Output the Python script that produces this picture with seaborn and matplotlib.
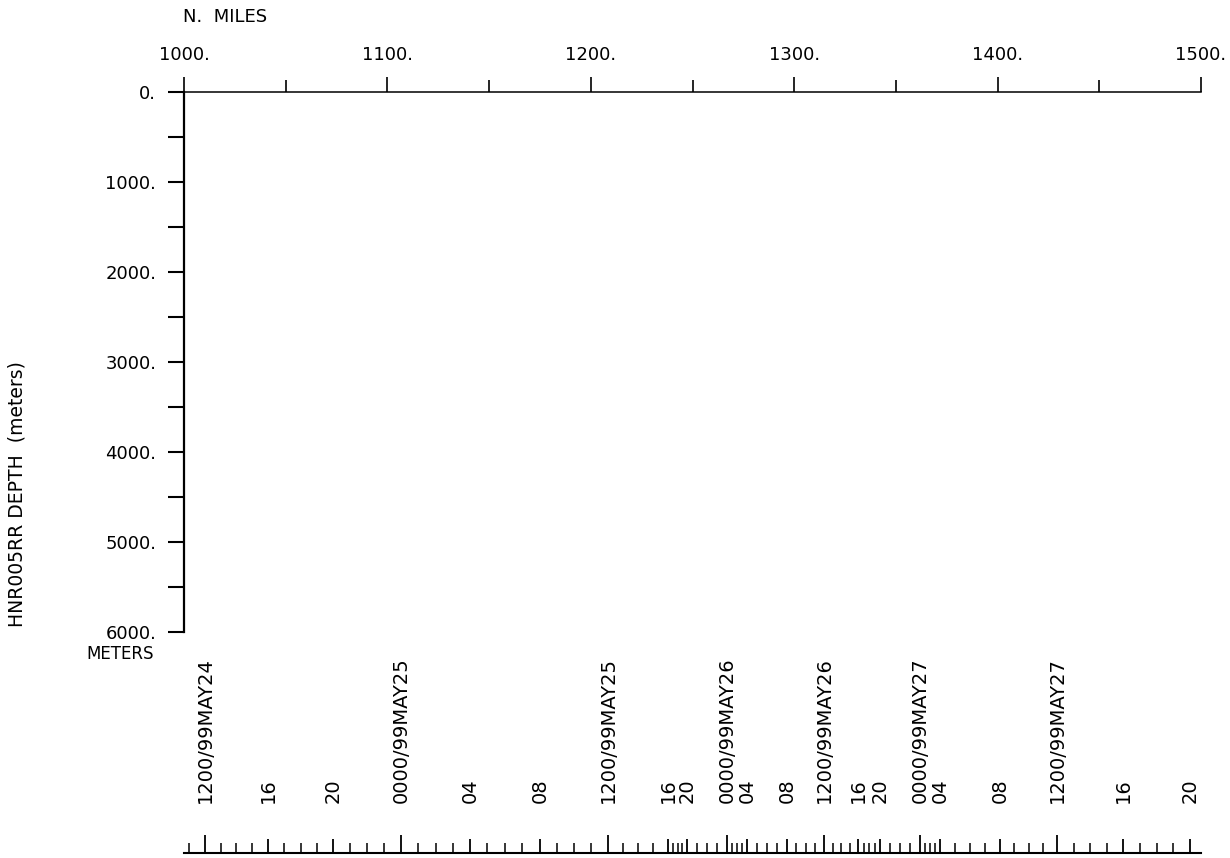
import numpy as np
import matplotlib
matplotlib.use("Agg")
import matplotlib.pyplot as plt
import seaborn as sns
from matplotlib.ticker import FixedLocator, FixedFormatter, MultipleLocator

# ---- data ----
distance_ticks = [1000, 1100, 1200, 1300, 1400, 1500]
distance_labels = ["1000.", "1100.", "1200.", "1300.", "1400.", "1500."]
depth_ticks = [0, 1000, 2000, 3000, 4000, 5000, 6000]
depth_labels = ["0.", "1000.", "2000.", "3000.", "4000.", "5000.", "6000."]

# ship time (hours since 99MAY24 0000) at given along-track distance (n. miles)
time_hours = [12, 16, 20, 24, 28, 32, 36, 40, 44, 48, 52, 56, 60, 64, 68, 72, 76, 80, 84, 88, 92]
time_labels = ["1200/99MAY24", "16", "20", "0000/99MAY25", "04", "08",
               "1200/99MAY25", "16", "20", "0000/99MAY26", "04", "08",
               "1200/99MAY26", "16", "20", "0000/99MAY27", "04", "08",
               "1200/99MAY27", "16", "20"]
time_miles = [1010.3, 1041.3, 1073.3, 1106.7, 1140.6, 1175.0, 1208.5, 1238.0, 1247.3,
              1267.0, 1276.8, 1296.5, 1314.7, 1331.4, 1342.2, 1361.9, 1371.7, 1401.2,
              1429.2, 1461.7, 1494.6]

sns.set_theme(style="ticks")
plt.rcParams['font.family'] = ['DejaVu Sans']
plt.rcParams['text.color'] = 'black'
plt.rcParams['axes.edgecolor'] = 'black'
plt.rcParams['xtick.color'] = 'black'
plt.rcParams['ytick.color'] = 'black'

W, H = 1230, 858
fig = plt.figure(figsize=(W / 100, H / 100), dpi=100)
fig.patch.set_facecolor('white')

x0, x1, y0, y1 = 184, 1201, 92, 632
ax = fig.add_axes([x0 / W, 1 - y1 / H, (x1 - x0) / W, (y1 - y0) / H])
ax.set_facecolor('white')
ax.set_xlim(1000, 1500)
ax.set_ylim(6000, 0)
sns.despine(ax=ax, top=False, right=True, bottom=True, left=False)
ax.spines['top'].set_linewidth(1.1)
ax.spines['left'].set_linewidth(1.6)

# top distance axis
ax.xaxis.tick_top()
ax.set_xticks(distance_ticks)
ax.set_xticklabels(distance_labels)
ax.xaxis.set_minor_locator(MultipleLocator(50))
ax.tick_params(axis='x', which='major', top=True, bottom=False, direction='out',
               length=10.5, width=1.2, pad=10, labelsize=13)
ax.tick_params(axis='x', which='minor', top=True, bottom=False, direction='out',
               length=9, width=1.2)

# depth axis
ax.set_yticks(depth_ticks)
ax.set_yticklabels(depth_labels)
ax.yaxis.set_minor_locator(MultipleLocator(500))
ax.tick_params(axis='y', which='major', left=True, right=False, direction='out',
               length=11.5, width=1.5, pad=8.5, labelsize=13)
ax.tick_params(axis='y', which='minor', left=True, right=False, direction='out',
               length=11.5, width=1.5)

# time ruler (secondary axis driven by the distance/time table)
mi = np.array(time_miles, float)
hr = np.array(time_hours, float)


def _interp_ext(x, xp, fp):
    x = np.asarray(x, float)
    y = np.interp(x, xp, fp)
    s0 = (fp[1] - fp[0]) / (xp[1] - xp[0])
    s1 = (fp[-1] - fp[-2]) / (xp[-1] - xp[-2])
    y = np.where(x < xp[0], fp[0] + (x - xp[0]) * s0, y)
    y = np.where(x > xp[-1], fp[-1] + (x - xp[-1]) * s1, y)
    return y


def fwd(m):
    return _interp_ext(m, mi, hr)


def inv(h):
    return _interp_ext(h, hr, mi)


ruler_y = 853
sec = ax.secondary_xaxis((y1 - ruler_y) / (y1 - y0), functions=(fwd, inv))
sec.set_alignment('top')
sec.spines['top'].set_linewidth(1.5)
sec.xaxis.set_major_locator(FixedLocator(time_hours))
sec.xaxis.set_major_formatter(FixedFormatter(time_labels))
sec.xaxis.set_minor_locator(MultipleLocator(1))
sec.tick_params(axis='x', which='major', direction='out', length=10, width=1.3,
                pad=26, labelsize=14, labelrotation=90)
sec.tick_params(axis='x', which='minor', direction='out', length=7.5, width=1.1)
for t, lab in zip(sec.xaxis.get_major_ticks(), time_labels):
    if '/' in lab:
        t.tick2line.set_markersize(13)

# labels
fig.text(183 / W, 1 - 17 / H, "N.  MILES", ha='left', va='center', fontsize=13)
fig.text(154 / W, 1 - 645 / H, "METERS", ha='right', va='top', fontsize=12)
fig.text(17 / W, 1 - 494 / H, "HNR005RR DEPTH  (meters)", rotation=90,
         ha='center', va='center', fontsize=13.5)

fig.savefig("out.png", dpi=100, facecolor='white')
